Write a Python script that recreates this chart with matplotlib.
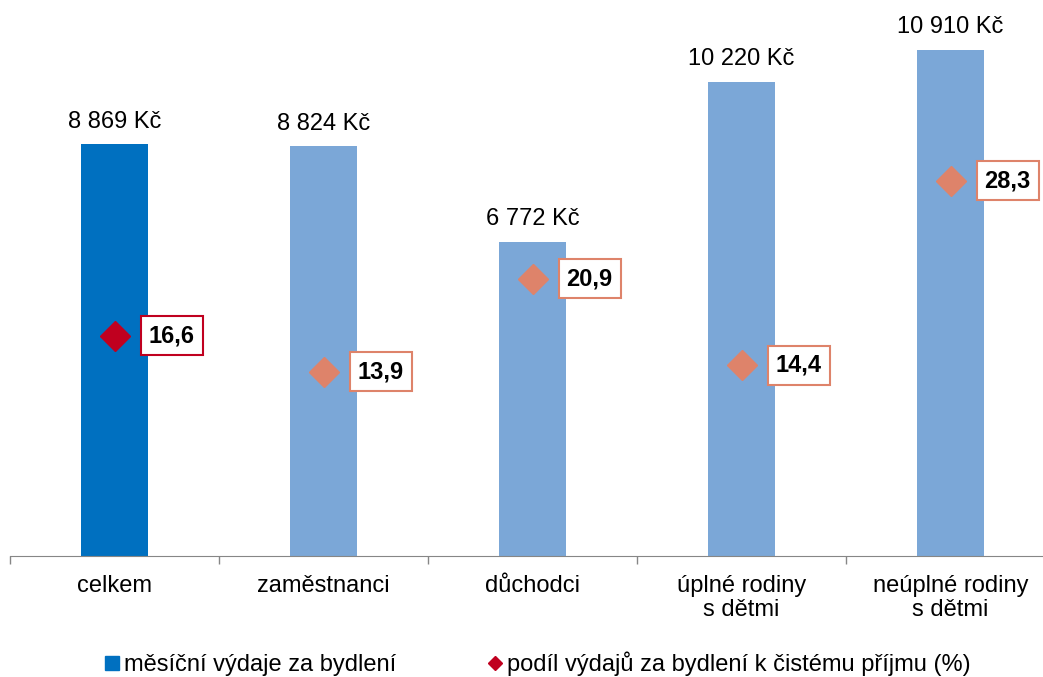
import matplotlib.pyplot as plt
from matplotlib.lines import Line2D
from matplotlib.ticker import FixedLocator

plt.rcParams['font.family'] = ['Liberation Sans', 'DejaVu Sans']

categories = ['celkem', 'zaměstnanci', 'důchodci', 'úplné rodiny\ns dětmi', 'neúplné rodiny\ns dětmi']
vydaje = [8869, 8824, 6772, 10220, 10910]
vydaje_labels = ['8 869 Kč', '8 824 Kč', '6 772 Kč', '10 220 Kč', '10 910 Kč']
podil = [16.6, 13.9, 20.9, 14.4, 28.3]
podil_labels = ['16,6', '13,9', '20,9', '14,4', '28,3']

bar_colors = ['#0070C0', '#7BA7D7', '#7BA7D7', '#7BA7D7', '#7BA7D7']
dia_colors = ['#C0001F', '#DE836A', '#DE836A', '#DE836A', '#DE836A']

fig = plt.figure(figsize=(10.43, 6.77), dpi=100)
ax = fig.add_axes([10 / 1043, 1 - 556 / 677, 1045 / 1043, 557 / 677])
ax2 = ax.twinx()

x = list(range(len(categories)))
ax.bar(x, vydaje, width=0.316, color=bar_colors, zorder=2)
ax.set_ylim(0, 12000)
ax.set_xlim(-0.5, len(categories) - 0.5)

for i, v in enumerate(vydaje):
    ax.annotate(vydaje_labels[i], (i, v), xytext=(0, 16), textcoords='offset points',
                ha='center', va='center', fontsize=17, color='#000000')

for i, p in enumerate(podil):
    ax2.plot(i, p, marker='D', markersize=15.5, color=dia_colors[i], linestyle='none', zorder=3)
    ax2.annotate(podil_labels[i], (i, p), xytext=(24.5, 0), textcoords='offset points',
                 ha='left', va='center', fontsize=17, fontweight='bold', color='#000000',
                 bbox=dict(boxstyle='square,pad=0.34', fc='white', ec=dia_colors[i], lw=1.5))
ax2.set_ylim(0, 42)
ax2.set_yticks([])

for a in (ax, ax2):
    for s in ['top', 'right', 'left']:
        a.spines[s].set_visible(False)
ax2.spines['bottom'].set_visible(False)
ax.spines['bottom'].set_color('#868686')
ax.set_yticks([])
ax.set_xticks(x)
ax.set_xticklabels(categories, fontsize=17, linespacing=1.12)
ax.tick_params(axis='x', which='major', length=0, pad=14)
ax.xaxis.set_minor_locator(FixedLocator([i - 0.5 for i in range(len(categories) + 1)]))
ax.tick_params(axis='x', which='minor', length=6, color='#868686', width=1)

handles = [Line2D([], [], marker='s', markersize=9.4, color='#0070C0', linestyle='none'),
           Line2D([], [], marker='D', markersize=6.8, color='#C0001F', linestyle='none')]
fig.legend(handles, ['měsíční výdaje za bydlení', 'podíl výdajů za bydlení k čistému příjmu (%)'],
           loc='center', bbox_to_anchor=(538 / 1043, 1 - 664 / 677), ncol=2, frameon=False,
           fontsize=17, handlelength=0.6, handletextpad=0.2, columnspacing=3.9)

fig.savefig('out.png', dpi=100)
